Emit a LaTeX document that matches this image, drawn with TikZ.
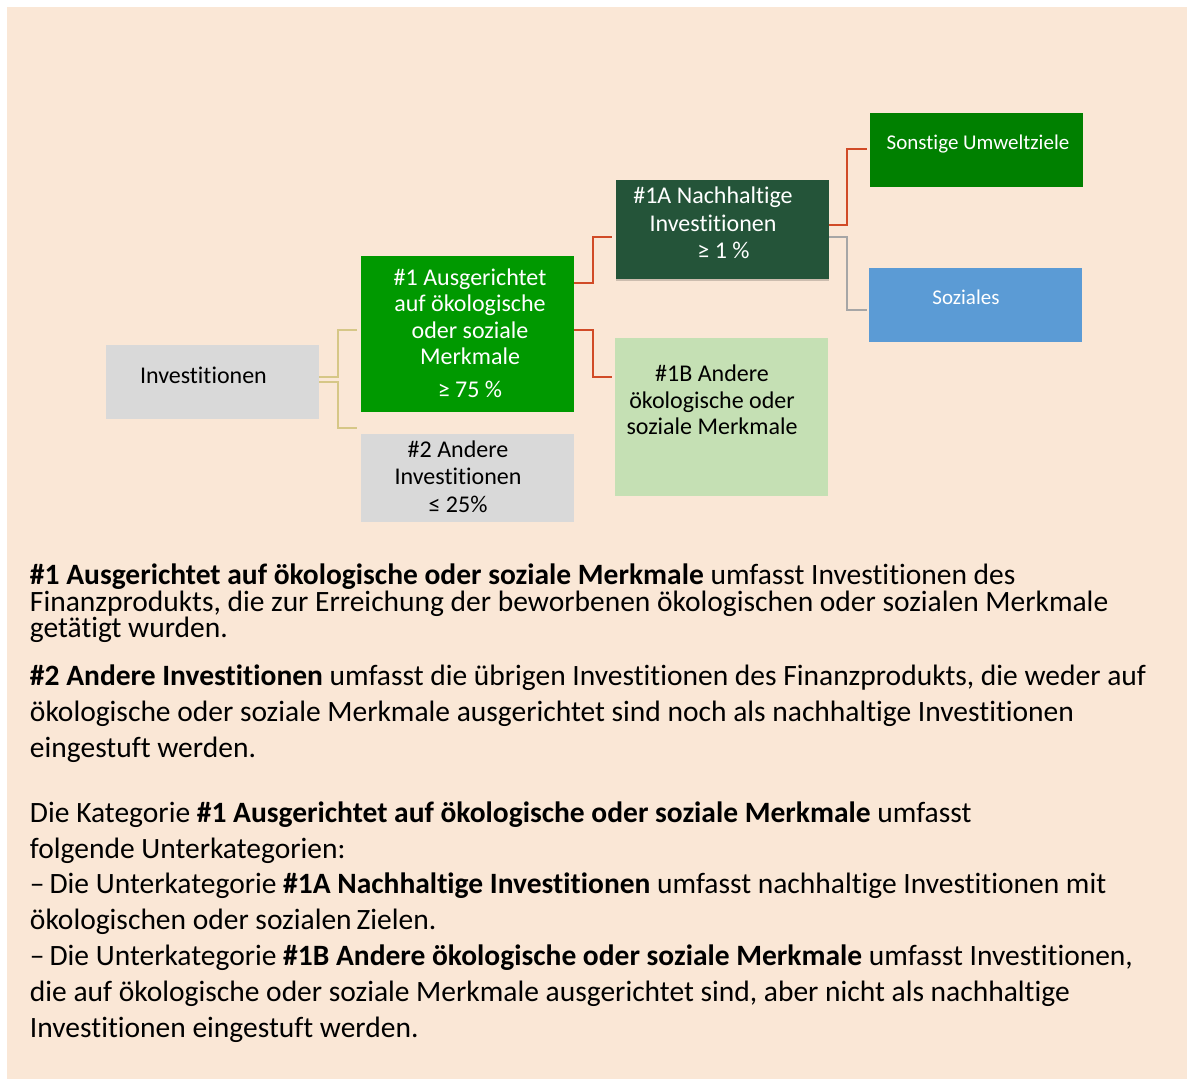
\documentclass[tikz,border=0pt]{standalone}
\usepackage{fontspec}
\setmainfont{Carlito}[Ligatures=NoCommon]
\usetikzlibrary{calc,shadows}
\definecolor{bg}{HTML}{FAE7D6}
\definecolor{boxgray}{HTML}{D9D9D9}
\definecolor{greenA}{HTML}{009900}
\definecolor{greenS}{HTML}{008000}
\definecolor{darkgreen}{HTML}{245439}
\definecolor{lightgreen}{HTML}{C5E0B4}
\definecolor{bluebox}{HTML}{5B9BD5}
\definecolor{redline}{HTML}{D14B27}
\definecolor{goldline}{HTML}{D6C787}
\definecolor{grayline}{HTML}{A6A6A6}
\begin{document}
\begin{tikzpicture}[x=1pt,y=-1pt,
  box/.style={draw=none, inner sep=0pt, outer sep=0pt, anchor=north west},
  lbl/.style={inner sep=0pt, outer sep=0pt, anchor=base, font=\fontsize{24}{28}\selectfont},
  lbls/.style={inner sep=0pt, outer sep=0pt, anchor=base, font=\fontsize{21}{25}\selectfont},
  body/.style={inner sep=0pt, outer sep=0pt, anchor=base west, font=\fontsize{29.5}{32}\selectfont},
  conn/.style={line width=2pt},
]
\useasboundingbox (0,0) rectangle (1187,1079);
\fill[white] (0,0) rectangle (1187,1079);
\fill[bg] (7,7) rectangle (1187,1079);

% boxes
\node[box, fill=boxgray, minimum width=213pt, minimum height=74pt] (inv) at (106,345) {};
\node[box, fill=greenA, minimum width=213pt, minimum height=156pt] (a1) at (361,256) {};
\node[box, fill=boxgray, minimum width=213pt, minimum height=88pt] (a2) at (361,434) {};
\node[box, fill=darkgreen, minimum width=213pt, minimum height=99pt,
      drop shadow={shadow xshift=0pt, shadow yshift=-1.5pt, opacity=0.18, fill=black}] (n1a) at (616,180) {};
\node[box, fill=lightgreen, minimum width=213pt, minimum height=158pt] (n1b) at (615,338) {};
\node[box, fill=greenS, minimum width=213pt, minimum height=74pt] (sonst) at (870,113) {};
\node[box, fill=bluebox, minimum width=213pt, minimum height=74pt] (soz) at (869,268) {};

% box texts
\node[lbl, anchor=base west] (tinv) at (140,383) {Investitionen};

\node[lbl, text=white] (ta1a) at (470,285) {\#1 Ausgerichtet};
\node[lbl, text=white] (ta1b) at (470,311.7) {auf ökologische};
\node[lbl, text=white] (ta1c) at (470,338) {oder soziale};
\node[lbl, text=white] (ta1d) at (470,364) {Merkmale};
\node[lbl, text=white] (ta1e) at (470,397) {≥ 75 \%};

\node[lbl] (ta2a) at (458,457) {\#2 Andere};
\node[lbl] (ta2b) at (458,484) {Investitionen};
\node[lbl] (ta2c) at (458,512.7) {≤ 25\%};

\node[lbl, text=white] (t1aa) at (713,203) {\#1A Nachhaltige};
\node[lbl, text=white] (t1ab) at (713,231) {Investitionen};
\node[lbl, text=white] (t1ac) at (723.5,258) {≥ 1 \%};

\node[lbl] (t1ba) at (712,381.7) {\#1B Andere};
\node[lbl] (t1bb) at (712,408) {ökologische oder};
\node[lbl] (t1bc) at (712,434) {soziale Merkmale};

\node[lbls, text=white] (tsonst) at (978,149.3) {Sonstige Umweltziele};
\node[lbls, text=white] (tsoz) at (966,304) {Soziales};

% connector end points
\coordinate (g1) at ($(a1.west)+(-4.3,-4)$);
\coordinate (g2) at ($(a2.north west)+(-4.3,-6)$);
\coordinate (r1) at ($(n1a.west)+(-4,7.2)$);
\coordinate (r2) at ($(n1b.north west)+(-3,38.7)$);
\coordinate (r3) at ($(sonst.west)+(-3.3,-1)$);
\coordinate (r4) at ($(soz.west)+(-2.3,5)$);

% connectors
\draw[conn, goldline] ($(inv.east)+(0,-5.3)$) -- ++(18.7,0) |- (g1);
\draw[conn, goldline] ($(inv.east)+(0,-0.3)$) -- ++(18.7,0) |- (g2);
\draw[conn, redline] ($(a1.east)+(0,-51.3)$) -- ++(18.7,0) |- (r1);
\draw[conn, redline] ($(a1.east)+(0,-4)$) -- ++(18.7,0) |- (r2);
\draw[conn, redline] ($(n1a.east)+(0,-4.5)$) -- ++(18,0) |- (r3);
\draw[conn, grayline] ($(n1a.east)+(0,7.2)$) -- ++(18,0) |- (r4);

% body text
\node[body] (p1a) at (30,584) {\textbf{\#1 Ausgerichtet auf ökologische oder soziale Merkmale} umfasst Investitionen des};
\node[body] (p1b) at (30,611) {Finanzprodukts, die zur Erreichung der beworbenen ökologischen oder sozialen Merkmale};
\node[body] (p1c) at (30,637) {getätigt wurden.};

\node[body] (p2a) at (30,685) {\textbf{\#2 Andere Investitionen} umfasst die übrigen Investitionen des Finanzprodukts, die weder auf};
\node[body] (p2b) at (30,721) {ökologische oder soziale Merkmale ausgerichtet sind noch als nachhaltige Investitionen};
\node[body] (p2c) at (30,757) {eingestuft werden.};

\node[body] (p3a) at (30,822) {Die Kategorie \textbf{\#1 Ausgerichtet auf ökologische oder soziale Merkmale} umfasst};
\node[body] (p3b) at (30,858) {folgende Unterkategorien:};
\node[body] (p3c) at (30,893) {–\,Die Unterkategorie \textbf{\#1A Nachhaltige Investitionen} umfasst nachhaltige Investitionen mit};
\node[body] (p3d) at (30,929) {ökologischen oder sozialen\,Zielen.};
\node[body] (p3e) at (30,965) {–\,Die Unterkategorie \textbf{\#1B Andere ökologische oder soziale Merkmale} umfasst Investitionen,};
\node[body] (p3f) at (30,1001) {die auf ökologische oder soziale Merkmale ausgerichtet sind, aber nicht als nachhaltige};
\node[body] (p3g) at (30,1037) {Investitionen eingestuft werden.};
\end{tikzpicture}
\end{document}
